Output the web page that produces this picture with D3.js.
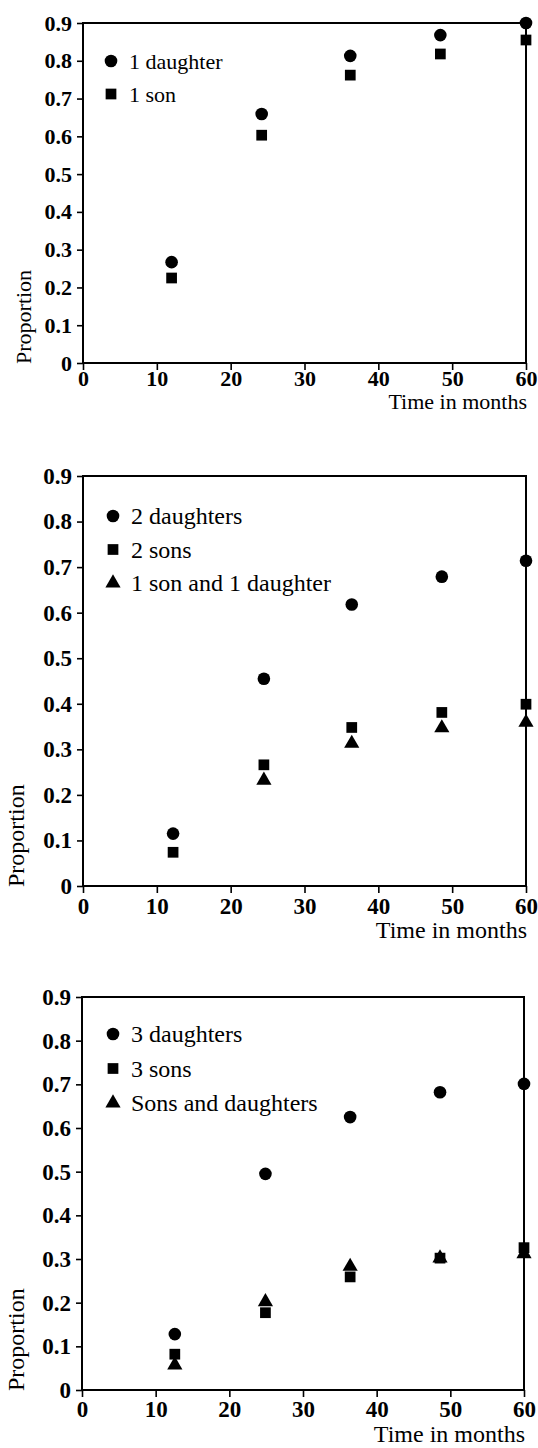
<!DOCTYPE html>
<html>
<head>
<meta charset="utf-8">
<script src="https://cdn.jsdelivr.net/npm/d3@7"></script>
<style>
body { margin: 0; background: #fff; }
</style>
</head>
<body>
<div id="chart"></div>
<script>
let serif = '"Liberation Serif", "Times New Roman", "DejaVu Serif", serif';

// tick labels
let xTicks = [0, 10, 20, 30, 40, 50, 60];
let yTicks = [0, 0.1, 0.2, 0.3, 0.4, 0.5, 0.6, 0.7, 0.8, 0.9];

// top panel
let months1 = [12, 24.2, 36.2, 48.4, 60];
let oneDaughter = [0.267, 0.659, 0.813, 0.868, 0.900];
let oneSon = [0.225, 0.603, 0.762, 0.818, 0.855];

// middle panel
let months2 = [12.2, 24.5, 36.4, 48.6, 60];
let twoDaughters = [0.115, 0.455, 0.618, 0.679, 0.714];
let twoSons = [0.074, 0.266, 0.348, 0.381, 0.399];
let monthsMixed2 = [24.5, 36.4, 48.6, 60];
let oneSonOneDaughter = [0.232, 0.313, 0.347, 0.359];

// bottom panel
let months3 = [12.6, 24.9, 36.4, 48.6, 60];
let threeDaughters = [0.128, 0.495, 0.625, 0.682, 0.701];
let threeSons = [0.082, 0.177, 0.259, 0.302, 0.326];
let sonsAndDaughters = [0.057, 0.202, 0.283, 0.302, 0.312];

let svg = d3.select("#chart")
    .append("svg")
    .attr("width", 538)
    .attr("height", 1448)
    .style("font-family", serif);

function makeSeries(label, shape, xs, ys) {
    return { label: label, shape: shape, points: xs.map((x, i) => ({ x: x, y: ys[i] })) };
}

//layout of each panel
let panels = [
    {
        box: { left: 83, right: 526, top: 23, bottom: 363 },
        fontSize: 22, tickFont: 22, tickBase: 23, titleBase: 46,
        yTitleX: 31, legendX: 111, legendY: 61, legendStep: 33,
        series: [
            makeSeries("1 daughter", "circle", months1, oneDaughter),
            makeSeries("1 son", "square", months1, oneSon)
        ]
    },
    {
        box: { left: 83, right: 526, top: 476, bottom: 886 },
        fontSize: 24, tickFont: 23, tickBase: 28, titleBase: 52,
        yTitleX: 24, legendX: 113, legendY: 516, legendStep: 33.5,
        series: [
            makeSeries("2 daughters", "circle", months2, twoDaughters),
            makeSeries("2 sons", "square", months2, twoSons),
            makeSeries("1 son and 1 daughter", "triangle", monthsMixed2, oneSonOneDaughter)
        ]
    },
    {
        box: { left: 82, right: 524, top: 997, bottom: 1390 },
        fontSize: 24, tickFont: 23, tickBase: 27, titleBase: 52,
        yTitleX: 24, legendX: 113, legendY: 1034, legendStep: 34.5,
        series: [
            makeSeries("3 daughters", "circle", months3, threeDaughters),
            makeSeries("3 sons", "square", months3, threeSons),
            makeSeries("Sons and daughters", "triangle", months3, sonsAndDaughters)
        ]
    }
];

let symbols = {
    circle: d3.symbol().type(d3.symbolCircle).size(125),
    square: d3.symbol().type(d3.symbolSquare).size(115),
    triangle: d3.symbol().type(d3.symbolTriangle).size(100)
};

panels.forEach(function(p) {
    let b = p.box;
    let g = svg.append("g");

    let xScale = d3.scaleLinear().domain([0, 60]).range([b.left, b.right]);
    let yScale = d3.scaleLinear().domain([0, 0.9]).range([b.bottom, b.top]);

    // axes
    let xAxis = g.append("g")
        .attr("transform", `translate(0, ${b.bottom})`)
        .call(d3.axisBottom(xScale).tickValues(xTicks).tickSize(7).tickFormat(d3.format("d")));
    let yAxis = g.append("g")
        .attr("transform", `translate(${b.left}, 0)`)
        .call(d3.axisLeft(yScale).tickValues(yTicks).tickSize(6).tickPadding(5)
            .tickFormat(d => d === 0 ? "0" : d3.format(".1f")(d)));

    [xAxis, yAxis].forEach(a => {
        a.attr("font-family", null).attr("font-size", null);
        a.select(".domain").remove();
        a.selectAll(".tick line").attr("stroke", "#000").attr("stroke-width", 1.6);
        a.selectAll(".tick text")
            .style("font-family", serif)
            .style("font-size", p.tickFont + "px")
            .style("font-weight", "bold")
            .attr("fill", "#000");
    });
    xAxis.selectAll(".tick text").attr("y", p.tickBase).attr("dy", null);

    // frame
    g.append("rect")
        .attr("x", b.left)
        .attr("y", b.top)
        .attr("width", b.right - b.left)
        .attr("height", b.bottom - b.top)
        .attr("fill", "none")
        .attr("stroke", "#000")
        .attr("stroke-width", 2);

    // markers (triangles under squares)
    let order = ["triangle", "circle", "square"];
    order.forEach(function(shape) {
        p.series.filter(s => s.shape === shape).forEach(function(s) {
            g.selectAll(null)
                .data(s.points)
                .enter()
                .append("path")
                .attr("d", symbols[s.shape])
                .attr("transform", d => `translate(${xScale(d.x)}, ${yScale(d.y)})`)
                .attr("fill", "#000");
        });
    });

    // legend
    p.series.forEach(function(s, i) {
        let ly = p.legendY + i * p.legendStep;
        g.append("path")
            .attr("d", symbols[s.shape])
            .attr("transform", `translate(${p.legendX}, ${ly})`)
            .attr("fill", "#000");
        g.append("text")
            .attr("x", p.legendX + 18)
            .attr("y", ly + 8)
            .style("font-size", p.fontSize + "px")
            .text(s.label);
    });

    // axis titles
    g.append("text")
        .attr("x", b.right + 1)
        .attr("y", b.bottom + p.titleBase)
        .attr("text-anchor", "end")
        .style("font-size", p.fontSize + "px")
        .text("Time in months");

    g.append("text")
        .attr("transform", `translate(${p.yTitleX}, ${b.bottom + 1}) rotate(-90)`)
        .style("font-size", p.fontSize + "px")
        .text("Proportion");
});
</script>
</body>
</html>
